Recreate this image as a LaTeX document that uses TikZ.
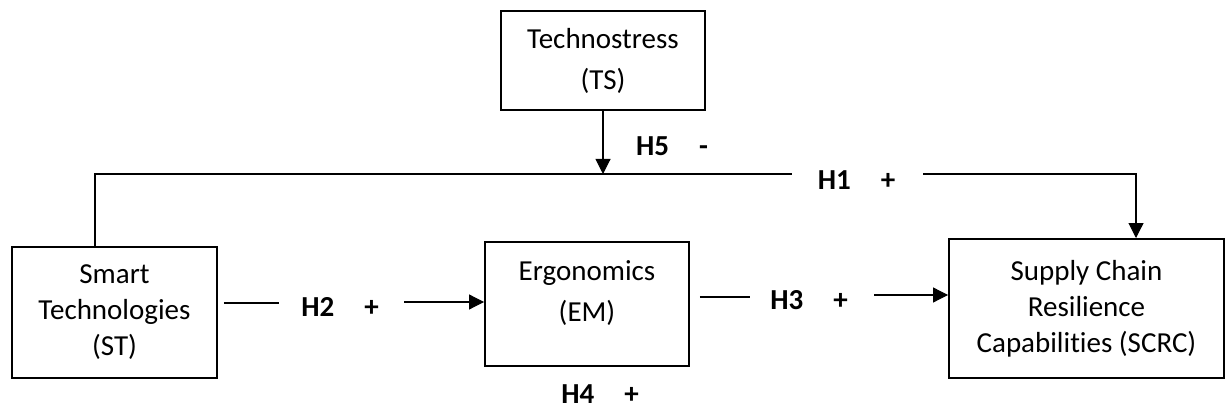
\documentclass[tikz,border=0pt]{standalone}
\usepackage{fontspec}
\setmainfont{Carlito}[Ligatures=NoCommon]
\usetikzlibrary{arrows.meta,positioning,calc}

\begin{document}
\begin{tikzpicture}[
    >=Stealth,
    varbox/.style={
        rectangle, draw=black, line width=1.1pt, align=center,
        inner sep=0pt, font=\fontsize{16.5pt}{20.5pt}\selectfont, text=black
    },
    hyp/.style={
        font=\fontsize{16.5pt}{20pt}\selectfont\bfseries, text=black, inner sep=0pt
    },
    link/.style={
        line width=0.6pt, draw=black
    },
    arrowto/.style={
        -{Triangle[length=3mm, width=3mm]}, line width=0.6pt, draw=black
    }
]

\useasboundingbox (0,0) rectangle (245.4mm,-81.8mm);

% ==================== CONSTRUCTS ====================
\node[varbox, minimum width=41mm, minimum height=26.2mm] (st) at (22.9mm, -62.5mm) {Smart\\Technologies\\(ST)};
\node[varbox, minimum width=40.8mm, minimum height=19.8mm] (ts) at (120.6mm, -12.1mm) {Technostress\\[1mm](TS)};
\node[varbox, minimum width=40.8mm, minimum height=24.8mm] (em) at (117.4mm, -60.8mm) {Ergonomics\\[1mm](EM)\\[-2mm]\mbox{}};
\node[varbox, minimum width=55mm, minimum height=27.8mm] (scrc) at (217.3mm, -61.7mm) {Supply Chain\\Resilience\\Capabilities (SCRC)};

% ==================== H1 AND H5 ====================
\coordinate (h1a) at (158.4mm, -34.8mm);
\coordinate (h1b) at (184.6mm, -34.8mm);
\draw[link] ($(st.north) + (-3.9mm, 0)$) |- (h1a);
\draw[arrowto] (h1b) -| ($(scrc.north) + (9.9mm, 0)$);
\node[hyp] (h1) at (171.3mm, -36mm) {H1\hspace{6mm}+};

\draw[arrowto] (ts.south) -- (ts.south |- h1a);
\node[hyp] (h5) at (134.4mm, -29.2mm) {H5\hspace{6mm}-};

% ==================== H2 AND H3 ====================
\coordinate (h2a) at (55.8mm, -60.6mm);
\coordinate (h2b) at (80.8mm, -60.4mm);
\draw[link] ($(st.east |- h2a) + (1.2mm, 0)$) -- (h2a);
\draw[arrowto] (h2b) -- (h2b -| em.west);
\node[hyp] (h2) at (68mm, -61.4mm) {H2\hspace{6mm}+};

\coordinate (h3a) at (150mm, -59.4mm);
\coordinate (h3b) at (174.8mm, -59mm);
\draw[link] ($(em.east |- h3a) + (2mm, 0)$) -- (h3a);
\draw[arrowto] (h3b) -- (h3b -| scrc.west);
\node[hyp] (h3) at (161.8mm, -60mm) {H3\hspace{6mm}+};

% ==================== H4 ====================
\node[hyp] (h4) at (120mm, -78.8mm) {H4\hspace{6mm}+};

\end{tikzpicture}
\end{document}
